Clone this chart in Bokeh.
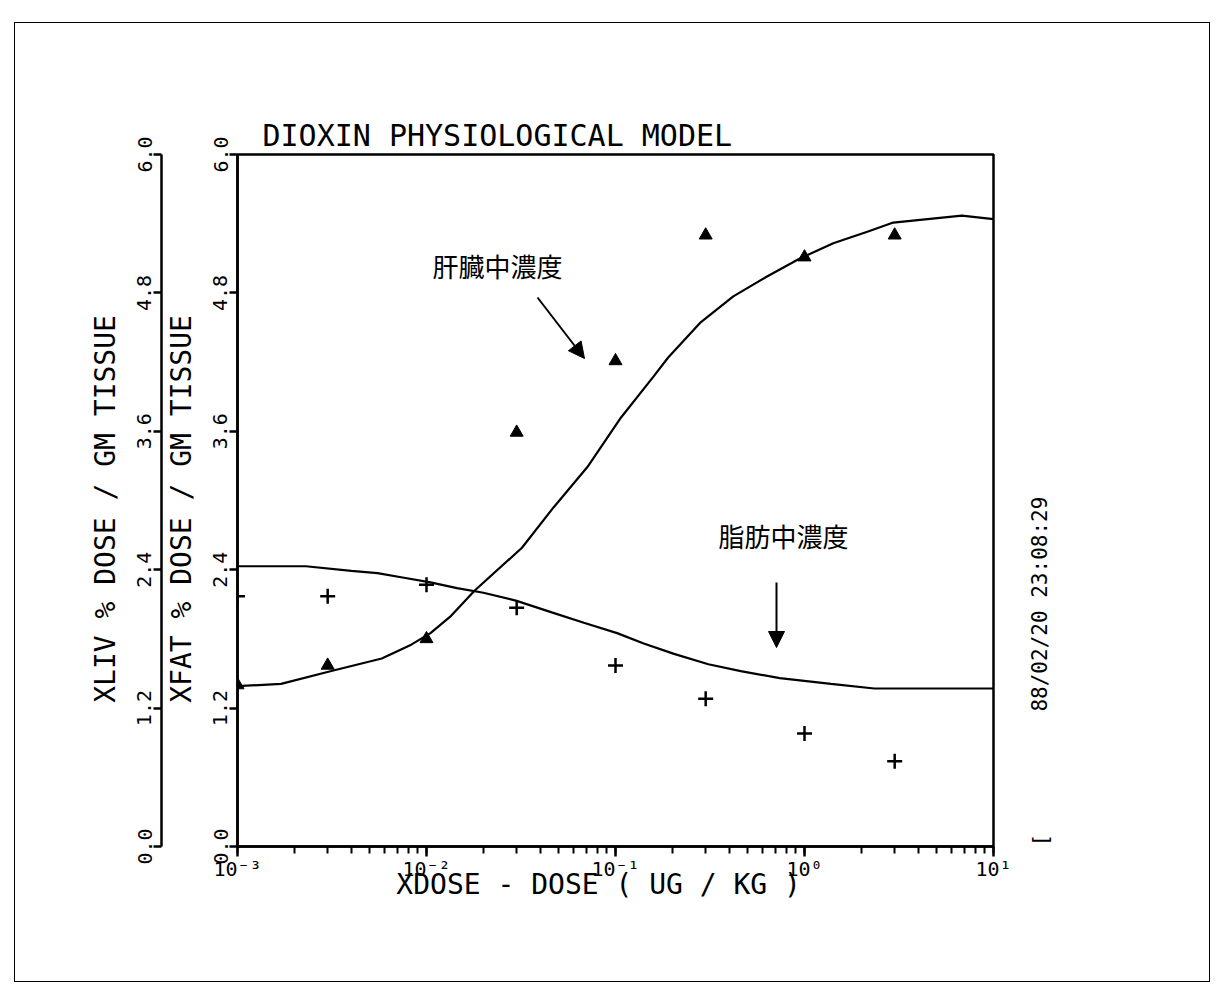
import math
from bokeh.plotting import figure
from bokeh.models import (Range1d, LinearAxis, LogTicker, FixedTicker, PrintfTickFormatter,
                          CustomJSTickFormatter, Label, Arrow, NormalHead)
from bokeh.embed import file_html
from bokeh.resources import INLINE

# ---------------- data ----------------
dose_obs = [0.001, 0.003, 0.01, 0.03, 0.1, 0.3, 1.0, 3.0]
liver_obs = [1.40, 1.57, 1.80, 3.59, 4.21, 5.30, 5.11, 5.30]
fat_obs = [2.17, 2.17, 2.27, 2.07, 1.57, 1.28, 0.98, 0.74]

liver_dose = [0.001, 0.0017, 0.0031, 0.0058, 0.0083, 0.0105, 0.0135, 0.018, 0.032, 0.047,
              0.071, 0.107, 0.158, 0.19, 0.28, 0.42, 0.63, 0.95, 1.42, 2.15, 2.95, 6.8, 10.0]
liver_model = [1.39, 1.41, 1.52, 1.63, 1.75, 1.85, 2.00, 2.22, 2.59, 2.94,
               3.29, 3.72, 4.07, 4.24, 4.54, 4.77, 4.94, 5.10, 5.23, 5.33, 5.41, 5.47, 5.44]

fat_dose = [0.001, 0.0023, 0.004, 0.0055, 0.0076, 0.0105, 0.0145, 0.020, 0.030, 0.046,
            0.068, 0.102, 0.141, 0.204, 0.31, 0.46, 0.74, 1.38, 2.34, 10.0]
fat_model = [2.43, 2.43, 2.39, 2.37, 2.33, 2.29, 2.24, 2.20, 2.13, 2.03,
             1.94, 1.85, 1.76, 1.67, 1.58, 1.52, 1.46, 1.41, 1.37, 1.37]

y_ticks = [0.0, 1.2, 2.4, 3.6, 4.8, 6.0]
x_tick_labels = ["10⁻³", "10⁻²", "10⁻¹", "10⁰", "10¹"]

title_text = "DIOXIN PHYSIOLOGICAL MODEL"
x_label = "XDOSE  -  DOSE ( UG / KG )"
fat_label = "XFAT  % DOSE / GM TISSUE"
liv_label = "XLIV  % DOSE / GM TISSUE"
liver_note = "肝臓中濃度"
fat_note = "脂肪中濃度"
stamp_text = "88/02/20 23:08:29"
stamp_mark = "["

MONO = "DejaVu Sans Mono"
CJK = "Noto Sans CJK JP"

# ---------------- figure ----------------
W, H = 1196, 960
p = figure(width=W, height=H, x_axis_type="log", x_range=Range1d(0.001, 10),
           y_range=Range1d(0, 6), output_backend="svg", toolbar_location=None,
           min_border_left=222, min_border_right=218, min_border_top=131,
           min_border_bottom=137,
           styles={"border": "1.5px solid black", "margin-left": "14px",
                   "margin-top": "22px"})
p.extra_y_ranges = {"liv": Range1d(0, 6)}
p.grid.visible = False
p.outline_line_color = "black"
p.outline_line_width = 2.5
p.background_fill_color = "white"
p.border_fill_color = "white"

p.title.text = title_text
p.title.text_font = MONO
p.title.text_font_size = "30px"
p.title.text_font_style = "normal"
p.title.text_color = "black"
p.title.align = "left"
p.title.offset = 25
p.title.standoff = 4


def style_y(ax, label):
    ax.ticker = FixedTicker(ticks=y_ticks)
    ax.formatter = PrintfTickFormatter(format="%.1f")
    ax.axis_label = label
    ax.axis_label_text_font = MONO
    ax.axis_label_text_font_size = "28px"
    ax.axis_label_text_font_style = "normal"
    ax.axis_label_text_color = "black"
    ax.axis_label_standoff = 13
    ax.major_label_text_font = MONO
    ax.major_label_text_font_size = "20px"
    ax.major_label_text_color = "black"
    ax.major_label_orientation = "vertical"
    ax.major_label_standoff = 2
    ax.axis_line_width = 2.5
    ax.major_tick_line_width = 2.5
    ax.major_tick_out = 8
    ax.major_tick_in = 0
    ax.minor_tick_line_color = None


# inner (fat) axis
style_y(p.yaxis[0], fat_label)
# outer (liver) axis
liv_axis = LinearAxis(y_range_name="liv")
style_y(liv_axis, liv_label)
p.add_layout(liv_axis, "left")

# right side: plot stamp written as rotated labels of a line-less axis
stamp_axis = LinearAxis(
    ticker=FixedTicker(ticks=[0.0, 1.17]),
    formatter=CustomJSTickFormatter(args=dict(stamp=stamp_text, mark=stamp_mark),
                                    code="return tick < 0.5 ? mark : stamp;"),
    axis_line_color=None, major_tick_line_color=None, minor_tick_line_color=None,
    major_label_orientation=math.pi / 2, major_label_standoff=41,
    major_label_text_font=MONO, major_label_text_font_size="21px",
    major_label_text_color="black")
p.add_layout(stamp_axis, "right")

xa = p.xaxis[0]
xa.ticker = LogTicker(num_minor_ticks=10, desired_num_ticks=5)
xa.formatter = CustomJSTickFormatter(args=dict(labels=x_tick_labels), code="""
    const e = Math.round(Math.log10(tick));
    const s = labels[e + 3];
    return s === undefined ? "" : s;
""")
xa.axis_label = x_label
xa.axis_label_text_font = MONO
xa.axis_label_text_font_size = "28px"
xa.axis_label_text_font_style = "normal"
xa.axis_label_text_color = "black"
xa.axis_label_standoff = -16
xa.major_label_text_font = MONO
xa.major_label_text_font_size = "20px"
xa.major_label_text_color = "black"
xa.major_label_standoff = 0
xa.axis_line_width = 2.5
xa.major_tick_line_width = 2.5
xa.minor_tick_line_width = 2
xa.major_tick_out = 10
xa.major_tick_in = 0
xa.minor_tick_out = 7
xa.minor_tick_in = 0

# ---------------- model curves & observations ----------------
p.line(liver_dose, liver_model, y_range_name="liv", line_color="black", line_width=2.2)
p.line(fat_dose, fat_model, line_color="black", line_width=2.2)
p.scatter(dose_obs, liver_obs, y_range_name="liv", marker="triangle", size=13,
          fill_color="black", line_color="black")
p.scatter(dose_obs, fat_obs, marker="cross", size=15, line_color="black", line_width=2.5)

# ---------------- annotations (screen units: from frame bottom-left) ----------------
p.add_layout(Label(x=260, y=581, x_units="screen", y_units="screen", text=liver_note,
                   text_font=CJK, text_font_size="26px", text_baseline="middle",
                   text_align="center", text_color="black"))
p.add_layout(Label(x=546, y=311, x_units="screen", y_units="screen", text=fat_note,
                   text_font=CJK, text_font_size="26px", text_baseline="middle",
                   text_align="center", text_color="black"))

p.add_layout(Arrow(x_start=300, y_start=549, x_end=347, y_end=488,
                   start_units="screen", end_units="screen", line_width=2,
                   end=NormalHead(size=16, fill_color="black", line_color="black")))
p.add_layout(Arrow(x_start=539, y_start=264, x_end=539, y_end=199,
                   start_units="screen", end_units="screen", line_width=2,
                   end=NormalHead(size=16, fill_color="black", line_color="black")))

open("out.html", "w").write(file_html(p, INLINE))
